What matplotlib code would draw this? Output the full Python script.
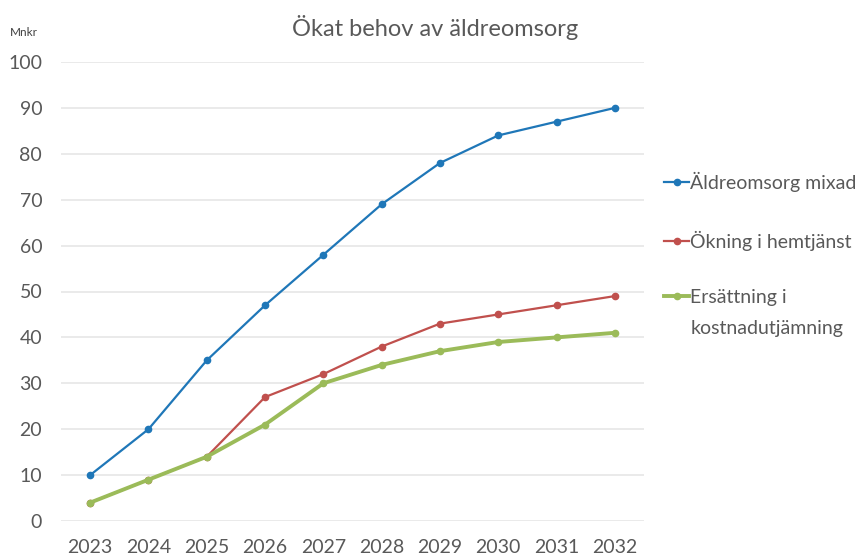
import matplotlib
matplotlib.use("Agg")
import matplotlib.pyplot as plt

years = ["2023", "2024", "2025", "2026", "2027", "2028", "2029", "2030", "2031", "2032"]
aldreomsorg = [10, 20, 35, 47, 58, 69, 78, 84, 87, 90]
hemtjanst = [4, 9, 14, 27, 32, 38, 43, 45, 47, 49]
ersattning = [4, 9, 14, 21, 30, 34, 37, 39, 40, 41]
labels = ["Äldreomsorg mixad", "Ökning i hemtjänst", "Ersättning i"]
label_line2 = "kostnadutjämning"
yticks = [0, 10, 20, 30, 40, 50, 60, 70, 80, 90, 100]

plt.rcParams['font.family'] = ['Lato', 'DejaVu Sans']
grey = '#595959'

W, H = 860, 556
fig = plt.figure(figsize=(W / 100, H / 100), dpi=100)
ax = fig.add_axes([61 / W, 35 / H, (644 - 61) / W, (521 - 62) / H])

x = list(range(len(years)))
ax.plot(x, aldreomsorg, color='#1F77B8', lw=1.6, marker='o', ms=4.5, label=labels[0], zorder=3)
ax.plot(x, hemtjanst, color='#C0504D', lw=1.6, marker='o', ms=4.5, label=labels[1], zorder=3)
ax.plot(x, ersattning, color='#9BBB59', lw=2.8, marker='o', ms=4.5, label=labels[2], zorder=4)

ax.set_xlim(-0.5, len(years) - 0.5)
ax.set_ylim(0, 100)
ax.set_xticks(x)
ax.set_xticklabels(years)
ax.set_yticks(yticks)
ax.grid(axis='y', color='#E6E6E6', lw=1.2)
ax.set_axisbelow(True)
for s in ax.spines.values():
    s.set_visible(False)
ax.tick_params(length=0, labelsize=14, labelcolor=grey)
ax.tick_params(axis='x', pad=13)
ax.tick_params(axis='y', pad=13.5)

fig.text(435 / W, 1 - 28 / H, "Ökat behov av äldreomsorg", ha='center', va='center',
         fontsize=17, color=grey)
fig.text(10 / W, 1 - 33 / H, "Mnkr", ha='left', va='center', fontsize=8.5, color='#404040')

leg = fig.legend(loc='upper left', bbox_to_anchor=(664 / W, 1 - 172 / H), frameon=False,
                 borderpad=0, borderaxespad=0, handlelength=1.3, handletextpad=0.05,
                 labelspacing=1.98, fontsize=14, labelcolor=grey)

fig.canvas.draw()
bb = leg.get_texts()[2].get_window_extent()
fig.text(bb.x0 / W, (bb.y0 - 31 + (bb.y1 - bb.y0) / 2) / H, label_line2, ha='left',
         va='center', fontsize=14, color=grey)

fig.savefig("out.png", dpi=100)
